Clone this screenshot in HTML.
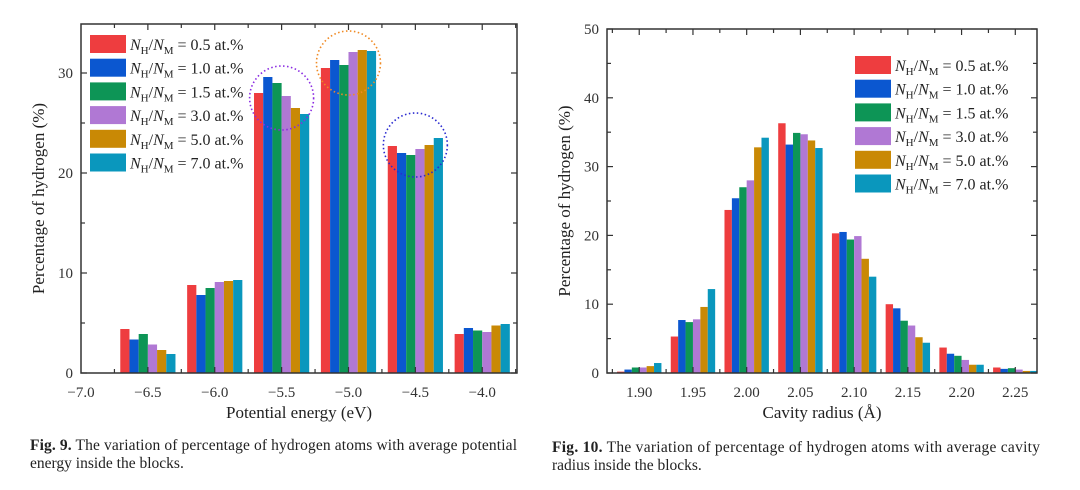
<!DOCTYPE html>
<html><head><meta charset="utf-8">
<style>
html,body{margin:0;padding:0;background:#fff;}
svg{display:block;font-family:"Liberation Serif",serif;}
</style></head>
<body>
<svg id="fig" width="1080" height="490" viewBox="0 0 1080 490">
<g id="left"></g>
<g id="right"></g>
<text x="30" y="450" font-size="15.5" fill="#222" textLength="487" lengthAdjust="spacing"><tspan font-weight="bold">Fig. 9.</tspan> The variation of percentage of hydrogen atoms with average potential</text>
<text x="30" y="468" font-size="15.5" fill="#222">energy inside the blocks.</text>
<text x="552" y="452" font-size="15.5" fill="#222" textLength="488" lengthAdjust="spacing"><tspan font-weight="bold">Fig. 10.</tspan> The variation of percentage of hydrogen atoms with average cavity</text>
<text x="552" y="470" font-size="15.5" fill="#222">radius inside the blocks.</text>
</svg>
<script>
const seriesLabels = ["0.5","1.0","1.5","3.0","5.0","7.0"];
const colors = ["#ee3d3f","#0b57d0","#0d9556","#b078d4","#c98905","#0a97bd"];
const leftCats = [-6.5,-6.0,-5.5,-5.0,-4.5,-4.0];
const leftS1 = [4.4,8.8,28.0,30.5,22.7,3.9];
const leftS2 = [3.35,7.8,29.6,31.3,22.0,4.5];
const leftS3 = [3.9,8.5,29.0,30.8,21.8,4.25];
const leftS4 = [2.85,9.1,27.7,32.1,22.4,4.1];
const leftS5 = [2.3,9.2,26.5,32.3,22.8,4.75];
const leftS6 = [1.9,9.3,25.9,32.2,23.5,4.9];
const leftXTicks = [-7.0,-6.5,-6.0,-5.5,-5.0,-4.5,-4.0];
const leftYTicks = [0,10,20,30];
const rightCats = [1.90,1.95,2.00,2.05,2.10,2.15,2.20,2.25];
const rightS1 = [0.2,5.3,23.7,36.3,20.3,10.0,3.7,0.8];
const rightS2 = [0.5,7.7,25.4,33.2,20.5,9.4,2.8,0.6];
const rightS3 = [0.8,7.4,27.0,34.9,19.4,7.6,2.5,0.7];
const rightS4 = [0.8,7.8,28.0,34.7,19.9,6.9,1.9,0.5];
const rightS5 = [1.0,9.6,32.8,33.8,16.6,5.2,1.2,0.3];
const rightS6 = [1.45,12.2,34.2,32.7,14.0,4.4,1.2,0.3];
const rightXTicks = [1.90,1.95,2.00,2.05,2.10,2.15,2.20,2.25];
const rightYTicks = [0,10,20,30,40,50];
const circleCats = [-5.5,-5.0,-4.5];
const circleVals = [27.5,31.0,22.8];
const circleColors = ["#8a2be2","#f08a24","#2a2ad0"];

const NS="http://www.w3.org/2000/svg";
function mk(parent,tag,attrs){const e=document.createElementNS(NS,tag);for(const k in attrs)e.setAttribute(k,attrs[k]);parent.appendChild(e);return e;}

function drawChart(g,cfg){
  const {x0,x1,y0,y1,xmin,xmax,ymin,ymax,cats,series,xTicks,xMinor,yTicks,yMinor,barW,xfmt,xTitle,legX,legY,pre} = cfg;
  const sx=v=>x0+(v-xmin)/(xmax-xmin)*(x1-x0);
  const sy=v=>y1-(v-ymin)/(ymax-ymin)*(y1-y0);
  const n=series.length;
  series.forEach((s,si)=>{
    s.forEach((v,ci)=>{
      const cx=sx(cats[ci]);
      const r=mk(g,'rect',{x:cx-barW*n/2+si*barW,y:sy(v),width:barW,height:sy(0)-sy(v),fill:colors[si]});
      
      
    });
  });
  const fr=mk(g,'rect',{x:x0,y:y0,width:x1-x0,height:y1-y0,fill:'none',stroke:'#333','stroke-width':1.5});
  
  
  for(let v=xmin+((xMinor-((xmin%xMinor)+xMinor)%xMinor)); v<=xmax+1e-9; v+=xMinor){
    const major=xTicks.some(t=>Math.abs(t-v)<1e-6);
    const L=major?6:4;
    mk(g,'line',{x1:sx(v),x2:sx(v),y1:y1,y2:y1-L,stroke:'#333','stroke-width':1.2});
    mk(g,'line',{x1:sx(v),x2:sx(v),y1:y0,y2:y0+L,stroke:'#333','stroke-width':1.2});
  }
  xTicks.forEach(t=>{
    const tx=mk(g,'text',{x:sx(t),y:y1+24,'font-size':15,'text-anchor':'middle',fill:'#333'});
    tx.textContent=xfmt(t);
    
    
  });
  for(let v=ymin; v<=ymax+1e-9; v+=yMinor){
    const major=yTicks.some(t=>Math.abs(t-v)<1e-6);
    const L=major?6:4;
    mk(g,'line',{x1:x0,x2:x0+L,y1:sy(v),y2:sy(v),stroke:'#333','stroke-width':1.2});
    mk(g,'line',{x1:x1,x2:x1-L,y1:sy(v),y2:sy(v),stroke:'#333','stroke-width':1.2});
  }
  yTicks.forEach(t=>{
    const ty=mk(g,'text',{x:x0-8,y:sy(t)+5,'font-size':15,'text-anchor':'end',fill:'#333'});
    ty.textContent=String(t);
    
    
  });
  const xt=mk(g,'text',{x:(x0+x1)/2,y:y1+45,'font-size':17,'text-anchor':'middle',fill:'#222'});
  xt.textContent=xTitle;
  
  
  const yt=mk(g,'text',{x:0,y:0,'font-size':17,'text-anchor':'middle',fill:'#222',transform:`translate(${x0-37},${(y0+y1)/2}) rotate(-90)`});
  yt.textContent='Percentage of hydrogen (%)';
  
  
  seriesLabels.forEach((lab,i)=>{
    const yy=legY+i*23.7;
    const sw=mk(g,'rect',{x:legX,y:yy,width:36,height:18,fill:colors[i]});
    
    
    const t=mk(g,'text',{x:legX+40,y:yy+15,'font-size':16,fill:'#222'});
    
    
    t.innerHTML=`<tspan font-style="italic">N</tspan><tspan font-size="11" dy="4">H</tspan><tspan dy="-4">/</tspan><tspan font-style="italic">N</tspan><tspan font-size="11" dy="4">M</tspan><tspan dy="-4"> = ${lab} at.%</tspan>`;
  });
  return {sx,sy};
}

const L=drawChart(document.getElementById('left'),{
  x0:81,x1:517,y0:24,y1:373,xmin:-7.0,xmax:-3.74,ymin:0,ymax:34.9,
  cats:leftCats,series:[leftS1,leftS2,leftS3,leftS4,leftS5,leftS6],
  xTicks:leftXTicks,xMinor:0.25,yTicks:leftYTicks,yMinor:5,barW:9.2,
  xfmt:v=>'\u2212'+Math.abs(v).toFixed(1),xTitle:'Potential energy (eV)',legX:90,legY:35,pre:'fig9'});
const lg=document.getElementById('left');
circleCats.forEach((c,i)=>{
  const e=mk(lg,'circle',{cx:L.sx(c),cy:L.sy(circleVals[i]),r:32,fill:'none',stroke:circleColors[i],'stroke-width':1.6,'stroke-dasharray':'1.5 2.5'});
  
  
});
drawChart(document.getElementById('right'),{
  x0:607,x1:1037,y0:29,y1:373,xmin:1.87,xmax:2.2702,ymin:0,ymax:50,
  cats:rightCats,series:[rightS1,rightS2,rightS3,rightS4,rightS5,rightS6],
  xTicks:rightXTicks,xMinor:0.025,yTicks:rightYTicks,yMinor:5,barW:7.4,
  xfmt:v=>v.toFixed(2),xTitle:'Cavity radius (\u00C5)',legX:855,legY:56,pre:'fig10'});
</script>
</body></html>
